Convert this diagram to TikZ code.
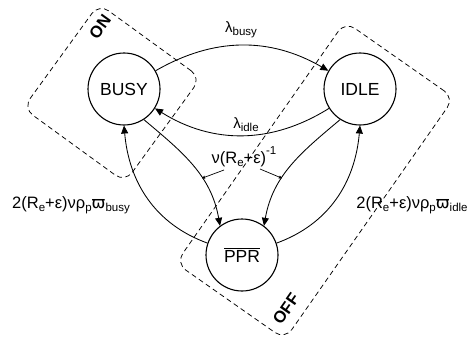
\documentclass[tikz,border=0pt]{standalone}
\usepackage{fontspec}
\setmainfont{Liberation Sans}
\newfontfamily\dejavu{DejaVu Sans}
\usetikzlibrary{arrows.meta}
\newcommand{\sbs}[1]{\raisebox{-0.35ex}{\fontsize{11.5}{12}\selectfont #1}}
\newcommand{\sps}[1]{\raisebox{1.0ex}{\fontsize{11.5}{12}\selectfont #1}}
\newcommand{\vpi}{{\dejavu ϖ}}
\begin{document}
\begin{tikzpicture}[x=1pt,y=1pt,
  stnode/.style={circle,draw,line width=1.1pt,minimum size=72pt,inner sep=0pt,font=\fontsize{17.5}{20}\selectfont},
  zone/.style={draw,dash pattern=on 5pt off 3.5pt,line width=0.75pt,rounded corners=12pt,inner sep=0pt},
  trans/.style={-{Triangle[length=8pt,width=7pt]},line width=0.85pt},
  ptr/.style={-{Triangle[length=3pt,width=3pt]},line width=0.7pt},
  lbl/.style={font=\fontsize{16.5}{19}\selectfont,inner sep=1pt},
  lamlbl/.style={font=\fontsize{15}{18}\selectfont,inner sep=1pt},
  zonelbl/.style={font=\bfseries\fontsize{16.5}{18}\selectfont,inner sep=0pt}]
\useasboundingbox (0,0) rectangle (474,341);
% zones
\node[zone,minimum width=126pt,minimum height=129pt,rotate=-36] (onzone) at (112,248) {};
\node[zone,minimum width=133pt,minimum height=295pt,rotate=-35] (offzone) at (315,160.5) {};
\node[zonelbl,rotate=54] (onlbl) at (100,314) {ON};
\node[zonelbl,rotate=55] (offlbl) at (286,32) {OFF};
% states
\node[stnode] (busy) at (124,252) {BUSY};
\node[stnode] (idle) at (360,252) {IDLE};
\node[stnode] (ppr) at (242,86) {$\overline{\mbox{PPR}}$};
% transitions
\draw[trans] (busy) to[out=30,in=150] (idle);
\draw[trans] (idle) to[out=-148,in=-32] (busy);
\draw[trans] (busy.-57) to[out=-40,in=100] coordinate[pos=0.62] (m1) (ppr.127);
\draw[trans] (idle.-123) to[out=-140,in=80] coordinate[pos=0.62] (m2) (ppr.53);
\draw[trans] (ppr.161) to[out=160,in=-85] (busy.-90);
\draw[trans] (ppr.19) to[out=20,in=-95] (idle.-90);
% labels
\node[lamlbl] (lbusy) at (241,311) {λ\sbs{busy}};
\node[lamlbl] (lidle) at (246,216) {λ\sbs{idle}};
\node[lbl] (vlab) at (244,184) {ν(R\sbs{e}+ε)\sps{-1}};
\node[lbl] (leftlbl) at (71,136) {2(R\sbs{e}+ε)νρ\sbs{p}\vpi\sbs{busy}};
\node[lbl] (rightlbl) at (412,136) {2(R\sbs{e}+ε)νρ\sbs{p}\vpi\sbs{idle}};
\coordinate (q1) at (224,171);
\coordinate (q2) at (260,172);
\draw[ptr] (q1) -- (m1);
\draw[ptr] (q2) -- (m2);
\end{tikzpicture}
\end{document}
